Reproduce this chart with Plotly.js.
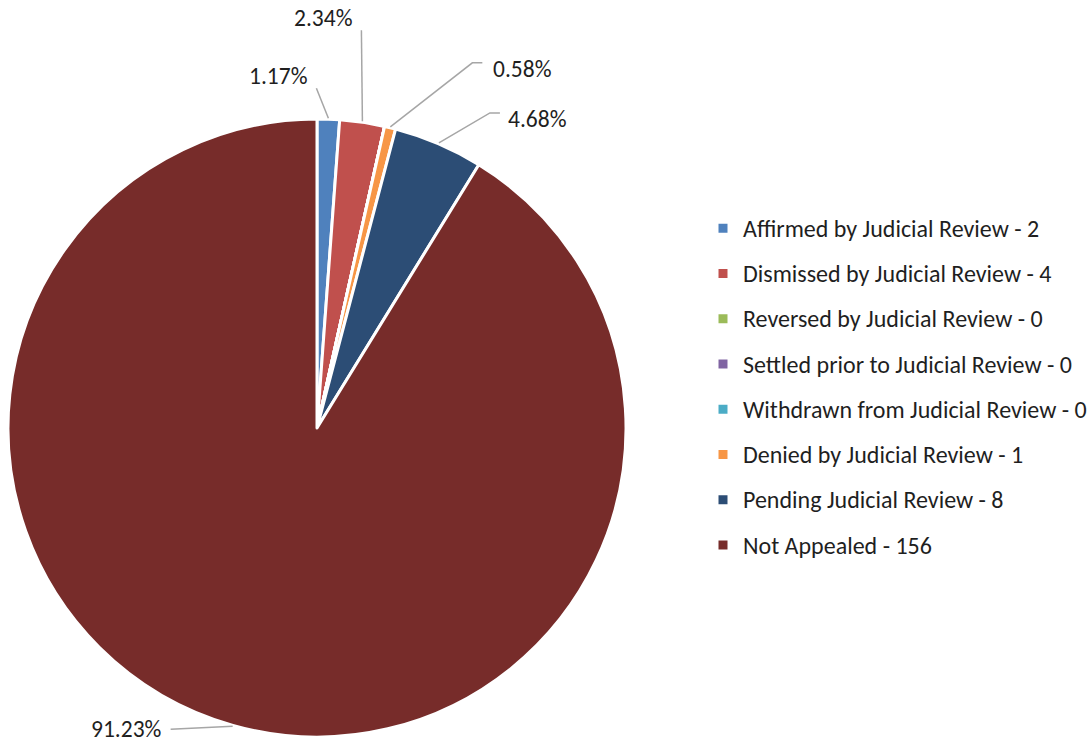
<!DOCTYPE html>
<html>
<head>
<meta charset="utf-8">
<script src="https://cdn.plot.ly/plotly-3.0.1.min.js"></script>
<style>html,body{margin:0;padding:0;background:#fff;}#chart{width:1092px;height:742px;}</style>
</head>
<body>
<div id="chart"></div>
<script>
// ---- data ----
const categories = [
  "Affirmed by Judicial Review",
  "Dismissed by Judicial Review",
  "Reversed by Judicial Review",
  "Settled prior to Judicial Review",
  "Withdrawn from Judicial Review",
  "Denied by Judicial Review",
  "Pending Judicial Review",
  "Not Appealed"
];
const counts = [2, 4, 0, 0, 0, 1, 8, 156];
const colors = ["#4F81BD", "#C0504D", "#9BBB59", "#8064A2", "#4BACC6", "#F79646", "#2C4D75", "#772C2A"];

// ---- style: label placement (pixel offsets from the slice's edge point) ----
// [elbow dx, elbow dy, end dx, end dy, text dx, text dy]
const labelOffsets = [
  [-12, -30, -12, -30, -50, -42],
  [-1, -91, -1, -91, -39, -103],
  null, null, null,
  [82, -64, 92, -64, 132, -58],
  [51, -30, 61, -30, 99, -24],
  [-62, 3, -62, 3, -106, 3]
];

const W = 1092, H = 742;
const pieBox = {left: 8, right: 626, top: 119, bottom: 737};
const FONT = "Carlito, Calibri, Lato, sans-serif";
const TXT = "#1f1f1f";

const total = counts.reduce((a, b) => a + b, 0);
const legendLabels = categories.map((c, i) =>
  '<span style="font-size:24px;baseline-shift:4px">' + c + ' - ' + counts[i] + '</span>');

const trace = {
  type: 'pie',
  labels: legendLabels,
  values: counts,
  sort: false,
  direction: 'clockwise',
  rotation: 0,
  textinfo: 'none',
  marker: {colors: colors, line: {color: '#ffffff', width: 3}},
  domain: {x: [pieBox.left / W, pieBox.right / W], y: [1 - pieBox.bottom / H, 1 - pieBox.top / H]},
  hoverinfo: 'label+value+percent'
};

// compute label anchors from data via the pie's geometry
const cx = (pieBox.left + pieBox.right) / 2, cy = (pieBox.top + pieBox.bottom) / 2;
const R = Math.min(pieBox.right - pieBox.left, pieBox.bottom - pieBox.top) / 2;
const shapes = [], annotations = [];
let cum = 0;
counts.forEach((v, i) => {
  const a0 = cum / total * 2 * Math.PI;
  cum += v;
  const a1 = cum / total * 2 * Math.PI;
  if (v === 0 || !labelOffsets[i]) return;
  const am = (a0 + a1) / 2;
  const ex = cx + (R + 1) * Math.sin(am), ey = cy - (R + 1) * Math.cos(am);
  const o = labelOffsets[i];
  const px = x => x / W, py = y => 1 - y / H;
  shapes.push({
    type: 'path', xref: 'paper', yref: 'paper',
    path: 'M' + px(ex) + ',' + py(ey) + ' L' + px(ex + o[0]) + ',' + py(ey + o[1]) + ' L' + px(ex + o[2]) + ',' + py(ey + o[3]),
    line: {color: '#A6A6A6', width: 1.5}
  });
  annotations.push({
    xref: 'paper', yref: 'paper', x: px(ex + o[4]), y: py(ey + o[5]),
    xanchor: 'center', yanchor: 'middle', showarrow: false, borderpad: 0,
    text: (v / total * 100).toFixed(2) + '%',
    font: {family: FONT, size: 23.5, color: TXT}
  });
});

const layout = {
  width: W, height: H,
  margin: {l: 0, r: 0, t: 0, b: 0},
  paper_bgcolor: '#ffffff',
  showlegend: true,
  legend: {
    x: 703 / W, xanchor: 'left', y: 1 - 386.5 / H, yanchor: 'middle',
    font: {family: FONT, size: 32.5, color: TXT},
    bgcolor: 'rgba(0,0,0,0)'
  },
  shapes: shapes,
  annotations: annotations
};

Plotly.newPlot('chart', [trace], layout, {displayModeBar: false, staticPlot: true});
</script>
</body>
</html>
